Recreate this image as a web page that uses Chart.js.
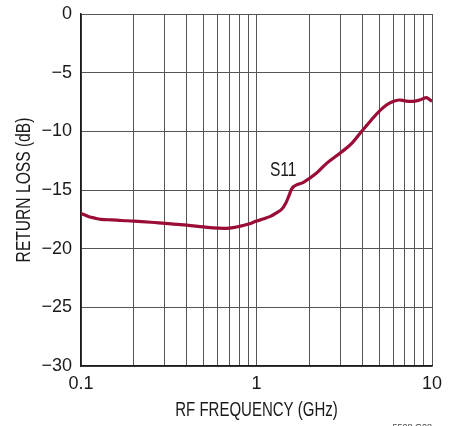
<!DOCTYPE html>
<html lang="en">
<head>
<meta charset="UTF-8">
<title>Return Loss vs RF Frequency</title>
<script src="https://cdn.jsdelivr.net/npm/chart.js"></script>
<style>
  html, body { margin: 0; padding: 0; background: #fff; }
  #wrap { width: 454px; height: 426px; position: relative; }
</style>
</head>
<body>
<div id="wrap"><canvas id="rlChart"></canvas></div>
<script>
// S11 trace
const freqGHz = [0.1, 0.11, 0.12, 0.13, 0.15, 0.17, 0.2, 0.25, 0.3, 0.4, 0.5, 0.6, 0.7, 0.8, 0.9, 1.0,
                 1.1, 1.2, 1.3, 1.4, 1.47, 1.53, 1.58, 1.63, 1.7, 1.85, 2.2, 2.5, 3.0, 3.5, 4.0, 4.5, 5.0,
                 5.5, 6.0, 6.5, 7.0, 7.5, 8.0, 8.5, 9.0, 9.3, 9.6, 10];
const s11dB = [-17.0, -17.25, -17.4, -17.5, -17.55, -17.6, -17.65, -17.75, -17.85, -18.0, -18.15, -18.25, -18.25, -18.1, -17.9, -17.65,
               -17.45, -17.25, -16.95, -16.6, -16.1, -15.5, -14.95, -14.7, -14.55, -14.35, -13.55, -12.75, -11.85, -11.0, -9.95, -9.05, -8.3,
               -7.75, -7.45, -7.33, -7.4, -7.45, -7.42, -7.33, -7.18, -7.13, -7.25, -7.45];

const xTicks = [0.1, 0.2, 0.3, 0.4, 0.5, 0.6, 0.7, 0.8, 0.9, 1, 2, 3, 4, 5, 6, 7, 8, 9, 10];
const xTickLabels = { 0.1: "0.1", 1: "1", 10: "10" };
const yTicks = [0, -5, -10, -15, -20, -25, -30];

const xTitle = "RF FREQUENCY (GHz)";
const yTitle = "RETURN LOSS (dB)";

const FONT = "'Liberation Sans', Arial, sans-serif";
const ink = "#1a1a1a";
const grid = "#555";

// condensed-looking text: squeeze horizontally
function narrowText(ctx, text, x, y, rot, size, squeeze) {
  ctx.save();
  ctx.translate(x, y);
  ctx.rotate(rot);
  ctx.scale(squeeze, 1);
  ctx.font = size + "px " + FONT;
  ctx.fillStyle = ink;
  ctx.textAlign = "center";
  ctx.textBaseline = "middle";
  ctx.fillText(text, 0, 0);
  ctx.restore();
}

const notes = {
  id: "notes",
  afterDraw(chart) {
    const { ctx, scales, chartArea } = chart;
    narrowText(ctx, "S11", scales.x.getPixelForValue(1.42), scales.y.getPixelForValue(-13.35), 0, 20, 0.78);
    narrowText(ctx, xTitle, (chartArea.left + chartArea.right) / 2, 410, 0, 20, 0.75);
    narrowText(ctx, yTitle, 24, (chartArea.top + chartArea.bottom) / 2, -Math.PI / 2, 20, 0.78);
    ctx.save();
    ctx.fillStyle = "#444";
    ctx.font = "9px " + FONT;
    ctx.textAlign = "right";
    ctx.fillText("5508 G08", 432, 430);
    ctx.restore();
  }
};

new Chart(document.getElementById("rlChart"), {
  type: "line",
  data: {
    datasets: [{
      label: "S11",
      data: freqGHz.map((f, i) => ({ x: f, y: s11dB[i] })),
      borderColor: "#9b0c36",
      borderWidth: 3.2,
      pointRadius: 0,
      tension: 0.4,
      fill: false
    }]
  },
  options: {
    responsive: true,
    maintainAspectRatio: false,
    animation: false,
    layout: { padding: { left: 0, right: 22, top: 14, bottom: 0 } },
    plugins: { legend: { display: false }, tooltip: { enabled: false } },
    scales: {
      x: {
        type: "logarithmic",
        min: 0.1,
        max: 10,
        afterBuildTicks: s => { s.ticks = xTicks.map(v => ({ value: v })); },
        afterFit: s => { s.height = 60; s.paddingLeft = 0; s.paddingRight = 0; },
        ticks: {
          color: ink,
          font: { family: FONT, size: 18 },
          padding: 7,
          autoSkip: false,
          maxRotation: 0,
          callback: v => xTickLabels[v] || ""
        },
        grid: { color: grid, lineWidth: 1, drawTicks: false },
        border: { color: ink, width: 1.5 }
      },
      y: {
        min: -30,
        max: 0,
        afterBuildTicks: s => { s.ticks = yTicks.map(v => ({ value: v })); },
        afterFit: s => { s.width = 81; s.paddingTop = 0; s.paddingBottom = 0; },
        ticks: {
          color: ink,
          font: { family: FONT, size: 18 },
          padding: 9,
          callback: v => v < 0 ? "\u2212" + Math.abs(v) : String(v)
        },
        grid: { color: grid, lineWidth: 1, drawTicks: false },
        border: { color: ink, width: 1.5 }
      }
    }
  },
  plugins: [notes]
});
</script>
</body>
</html>
